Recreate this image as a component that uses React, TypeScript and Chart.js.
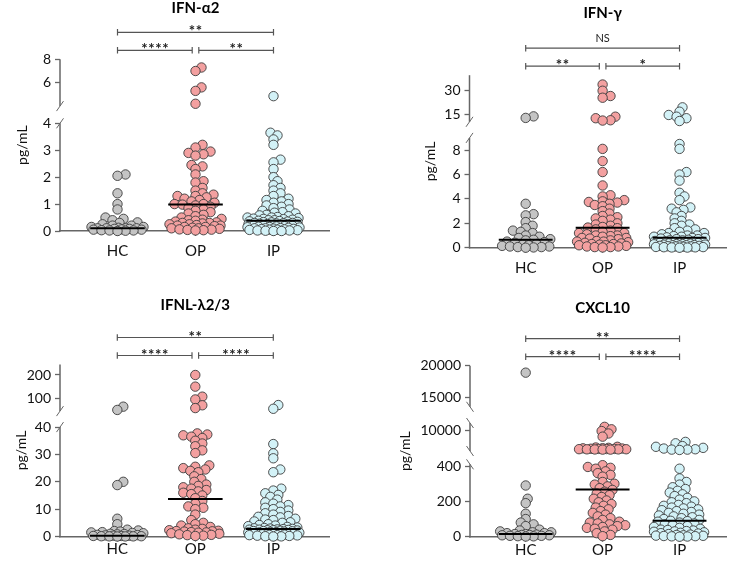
import React, { useEffect, useRef } from 'react';
import { Chart, registerables } from 'chart.js';
Chart.register(...registerables);

const FONT = 'Lato, "Open Sans", "DejaVu Sans", sans-serif';
const groups = ['HC', 'OP', 'IP'];
const groupColors = ['#c4c4c4', '#f3a0a0', '#d3f2f7'];

// ---------- IFN-α2 ----------
const a2HC = [2.1, 2.05, 1.4, 1.0, 0.8, 0.5, 0.45, 0.4, 0.32, 0.3, 0.25, 0.2, 0.2, 0.15, 0.15, 0.12, 0.1, 0.1, 0.1, 0.1, 0.08, 0.08, 0.06, 0.05, 0.05, 0.03, 0.02, 0.02, 0.01, 0.0];
const a2OP = [7.3, 7.0, 5.6, 5.3, 4.2, 3.2, 3.1, 2.95, 2.9, 2.85, 2.8, 2.45, 2.4, 2.3, 2.1, 1.85, 1.8, 1.6, 1.5, 1.4, 1.35, 1.3, 1.3, 1.25, 1.2, 1.15, 1.1, 1.05, 1.0, 1.0, 0.98, 0.95, 0.9, 0.85, 0.8, 0.75, 0.7, 0.65, 0.6, 0.55, 0.5, 0.45, 0.42, 0.4, 0.38, 0.35, 0.32, 0.3, 0.3, 0.28, 0.25, 0.25, 0.22, 0.2, 0.2, 0.18, 0.15, 0.15, 0.12, 0.1, 0.1, 0.08, 0.06, 0.05, 0.04, 0.03, 0.02];
const a2IP = [4.85, 3.65, 3.55, 3.4, 3.2, 2.65, 2.55, 2.3, 2.0, 1.85, 1.7, 1.6, 1.5, 1.4, 1.3, 1.2, 1.15, 1.1, 1.05, 1.0, 0.95, 0.9, 0.85, 0.8, 0.75, 0.7, 0.68, 0.65, 0.6, 0.58, 0.55, 0.52, 0.5, 0.5, 0.48, 0.46, 0.45, 0.44, 0.42, 0.4, 0.4, 0.38, 0.37, 0.36, 0.35, 0.34, 0.33, 0.32, 0.3, 0.3, 0.29, 0.28, 0.27, 0.26, 0.25, 0.24, 0.23, 0.22, 0.21, 0.2, 0.2, 0.19, 0.18, 0.17, 0.16, 0.15, 0.14, 0.13, 0.12, 0.11, 0.1, 0.1, 0.09, 0.08, 0.07, 0.06, 0.05, 0.05, 0.04, 0.03, 0.02, 0.02, 0.01, 0.0, 0.0];
const a2Median = [0.1, 0.98, 0.38];
const a2Ticks = [0, 1, 2, 3, 4, 6, 8];
const a2Stats = ['**', '****', '**'];

// ---------- IFN-γ ----------
const gHC = [13.5, 12.5, 3.6, 2.75, 2.65, 2.1, 1.8, 1.6, 1.4, 1.3, 1.2, 1.0, 0.9, 0.8, 0.7, 0.65, 0.6, 0.5, 0.45, 0.4, 0.3, 0.25, 0.2, 0.15, 0.1, 0.1, 0.05, 0.05, 0.02, 0.0];
const gOP = [34, 30, 26.6, 25.5, 13.3, 12.3, 11, 10.8, 8.1, 7.1, 6.2, 5.1, 4.3, 4.2, 3.9, 3.8, 3.75, 3.7, 3.6, 3.5, 3.4, 3.2, 3.0, 2.8, 2.6, 2.5, 2.4, 2.3, 2.2, 2.0, 1.9, 1.8, 1.7, 1.65, 1.6, 1.5, 1.4, 1.3, 1.2, 1.2, 1.1, 1.0, 1.0, 0.95, 0.9, 0.8, 0.8, 0.75, 0.7, 0.6, 0.55, 0.5, 0.5, 0.45, 0.4, 0.35, 0.3, 0.3, 0.25, 0.2, 0.2, 0.15, 0.1, 0.1, 0.05, 0.05, 0.02];
const gIP = [19.3, 16.5, 14.4, 13.3, 12.3, 10.5, 8.5, 8.1, 6.2, 6.0, 5.5, 4.5, 4.2, 3.9, 3.3, 3.2, 3.1, 2.9, 2.6, 2.4, 2.2, 2.0, 1.9, 1.8, 1.6, 1.5, 1.4, 1.3, 1.2, 1.2, 1.1, 1.0, 1.0, 0.95, 0.9, 0.9, 0.85, 0.8, 0.8, 0.75, 0.7, 0.7, 0.65, 0.6, 0.6, 0.55, 0.5, 0.5, 0.48, 0.45, 0.42, 0.4, 0.4, 0.38, 0.35, 0.33, 0.3, 0.3, 0.28, 0.25, 0.25, 0.22, 0.2, 0.2, 0.18, 0.15, 0.15, 0.12, 0.1, 0.1, 0.08, 0.06, 0.05, 0.04, 0.03, 0.02, 0.01, 0.0];
const gMedian = [0.65, 1.64, 0.82];
const gTicks = [0, 2, 4, 6, 8, 15, 30];
const gStats = ['NS', '**', '*'];

// ---------- IFNL-λ2/3 ----------
const lHC = [64, 50, 20, 18.8, 6.5, 4.5, 2.5, 2.2, 2.0, 1.8, 1.6, 1.5, 1.3, 1.2, 1.0, 0.9, 0.8, 0.6, 0.5, 0.4, 0.3, 0.3, 0.2, 0.2, 0.1, 0.1, 0.05, 0.05, 0.02, 0.0];
const lOP = [200, 150, 107, 95, 70, 58, 37.7, 37.3, 37, 36.5, 36, 35, 34, 33, 31.5, 30.5, 26, 25.5, 25, 24.5, 24, 23.5, 22, 21, 20, 19, 18.5, 18, 17.5, 17, 16.5, 16, 15.5, 15, 14, 13, 12, 11, 10.5, 10, 8, 6, 5, 4.5, 4, 3.5, 3, 2.8, 2.5, 2.3, 2.1, 2.0, 1.9, 1.8, 1.6, 1.5, 1.4, 1.2, 1.0, 0.8, 0.6, 0.5, 0.3, 0.2];
const lIP = [71, 55, 33.8, 30.4, 28.6, 24.5, 23.5, 17.5, 16.8, 15.8, 15.2, 14.5, 13.5, 12.5, 12, 11.5, 11, 10.5, 10, 9.5, 9, 8.5, 8, 7.5, 7.2, 7, 6.5, 6.2, 6, 5.5, 5.2, 5, 4.5, 4.2, 4, 3.8, 3.5, 3.3, 3.1, 3, 2.9, 2.8, 2.7, 2.6, 2.5, 2.5, 2.4, 2.3, 2.3, 2.2, 2.1, 2, 2.0, 1.9, 1.8, 1.7, 1.6, 1.5, 1.5, 1.4, 1.3, 1.2, 1.1, 1, 1.0, 0.9, 0.8, 0.7, 0.6, 0.5, 0.5, 0.4, 0.3, 0.2, 0.1, 0.05, 0];
const lMedian = [0.3, 13.7, 2.7];
const lTicks = [0, 10, 20, 30, 40, 100, 200];
const lStats = ['**', '****', '****'];

// ---------- CXCL10 ----------
const cHC = [18900, 290, 215, 190, 130, 100, 80, 70, 60, 40, 35, 30, 25, 25, 20, 20, 15, 15, 12, 10, 10, 8, 8, 5, 5, 3, 2, 1];
const cOP = [10450, 10100, 9850, 9500, 9050, 7600, 7500, 7450, 7400, 7380, 7350, 7320, 7300, 7300, 7280, 7260, 7250, 7240, 7230, 7220, 7200, 7200, 405, 395, 390, 385, 370, 360, 350, 340, 310, 300, 295, 285, 275, 265, 255, 245, 235, 225, 215, 205, 195, 185, 175, 165, 155, 145, 135, 125, 115, 105, 95, 85, 80, 75, 70, 65, 60, 55, 50, 45, 40, 30, 20, 10, 3];
const cIP = [8300, 8100, 7700, 7600, 7450, 7350, 7250, 7200, 7200, 7150, 385, 330, 310, 295, 280, 270, 260, 250, 240, 230, 220, 210, 200, 195, 190, 180, 175, 170, 165, 160, 155, 150, 145, 140, 135, 130, 125, 120, 115, 110, 105, 100, 95, 90, 88, 85, 80, 75, 70, 65, 60, 55, 50, 45, 40, 38, 35, 32, 30, 28, 25, 22, 20, 18, 15, 12, 10, 8, 6, 5, 4, 3, 2, 1, 0];
const cMedian = [15, 268, 90];
const cTicks = [0, 200, 400, 10000, 15000, 20000];
const cStats = ['**', '****', '****'];

type Seg = { lo: number; hi: number; d0: number; d1: number };

type Panel = {
  title: string;
  values: number[][];
  medians: number[];
  ticks: number[];
  stats: string[];
  segs: Seg[];
  y0: number;
  axisX: number;
  hcX: number;
  step: number;
  rightX: number;
  slash: number;
  xLabelPad: number;
  titleDy: number;
  yTitleOff: number;
};

const panels: Panel[] = [
  {
    title: 'IFN-α2', values: [a2HC, a2OP, a2IP], medians: a2Median, ticks: a2Ticks, stats: a2Stats,
    segs: [{ lo: 0, hi: 4, d0: 0, d1: 107.7 }, { lo: 4, hi: 8, d0: 124.9, d1: 171.7 }],
    y0: 231, axisX: 60, hcX: 117.5, step: 78, rightX: 329, slash: 1, xLabelPad: 6, titleDy: 51, yTitleOff: 38,
  },
  {
    title: 'IFN-γ', values: [gHC, gOP, gIP], medians: gMedian, ticks: gTicks, stats: gStats,
    segs: [{ lo: 0, hi: 9, d0: 0, d1: 109.8 }, { lo: 10, hi: 40, d0: 125.9, d1: 172.5 }],
    y0: 247.7, axisX: 469.5, hcX: 526.7, step: 78.3, rightX: 731, slash: 1, xLabelPad: 6, titleDy: 62, yTitleOff: 39.5,
  },
  {
    title: 'IFNL-λ2/3', values: [lHC, lOP, lIP], medians: lMedian, ticks: lTicks, stats: lStats,
    segs: [{ lo: 0, hi: 40, d0: 0, d1: 109.4 }, { lo: 45, hi: 245, d0: 125.4, d1: 172 }],
    y0: 536.5, axisX: 60, hcX: 117.3, step: 78, rightX: 329, slash: 1, xLabelPad: -1, titleDy: 59.5, yTitleOff: 38.3,
  },
  {
    title: 'CXCL10', values: [cHC, cOP, cIP], medians: cMedian, ticks: cTicks, stats: cStats,
    segs: [{ lo: 0, hi: 410, d0: 0, d1: 72.4 }, { lo: 7000, hi: 11000, d0: 85.7, d1: 113.7 }, { lo: 13500, hi: 20000, d0: 129.9, d1: 171 }],
    y0: 536.7, axisX: 470, hcX: 526.7, step: 78.3, rightX: 731, slash: -1, xLabelPad: -1, titleDy: 57.7, yTitleOff: 65,
  },
];

function toD(v: number, segs: Seg[]): number {
  for (let i = 0; i < segs.length; i++) {
    const s = segs[i];
    if (v <= s.hi || i === segs.length - 1) {
      const c = Math.max(v, s.lo);
      return s.d0 + ((c - s.lo) * (s.d1 - s.d0)) / (s.hi - s.lo);
    }
  }
  return 0;
}

// deterministic beeswarm layout in pixel space (d values are pixels),
// anisotropic spacing: points only spread sideways when nearly level
function swarm(ds: number[], pxPerUnit: number, Dx: number, Dy: number, W: number): number[] {
  const idx = ds.map((_, i) => i).sort((a, b) => ds[a] - ds[b]);
  const placed: { x: number; y: number }[] = [];
  const res = new Array(ds.length).fill(0);
  for (const i of idx) {
    const y = ds[i];
    let best = 0;
    let bestScore = -Infinity;
    for (let k = 0; k <= 2 * W; k++) {
      const off = (k % 2 === 1 ? 1 : -1) * Math.ceil(k / 2);
      let minD = Infinity;
      for (const p of placed) {
        const dd = Math.hypot((off - p.x) / Dx, (y - p.y) / Dy);
        if (dd < minD) minD = dd;
      }
      if (minD >= 1) {
        best = off;
        break;
      }
      if (minD > bestScore + 0.05) {
        bestScore = minD;
        best = off;
      }
    }
    placed.push({ x: best, y });
    res[i] = best / pxPerUnit;
  }
  return res;
}

const YW = 60;
const XH = 34;

function buildConfig(p: Panel): any {
  const dTop = p.segs[p.segs.length - 1].d1;
  const xMin = 1 - (p.hcX - p.axisX) / p.step;
  const xMax = 1 + (p.rightX - p.hcX) / p.step;

  const scatterSets = p.values.map((vals, g) => {
    const ds = vals.map((v) => toD(v, p.segs));
    const offs = swarm(ds, p.step, 8, 4.5, 26);
    return {
      data: ds.map((d, i) => ({ x: g + 1 + offs[i], y: d })),
      pointRadius: 4.7,
      pointBackgroundColor: groupColors[g],
      pointBorderColor: '#3c3c3c',
      pointBorderWidth: 0.9,
      showLine: false,
      clip: false,
      order: 2,
    };
  });
  const medianSets = p.medians.map((m, g) => ({
    data: [
      { x: g + 1 - 0.35, y: toD(m, p.segs) },
      { x: g + 1 + 0.35, y: toD(m, p.segs) },
    ],
    showLine: true,
    borderColor: '#000',
    borderWidth: 2,
    pointRadius: 0,
    clip: false,
    order: 1,
  }));

  const decor = {
    id: 'decor' + p.title,
    afterDraw(chart: any) {
      const ctx = chart.ctx as CanvasRenderingContext2D;
      const xs = chart.scales.x;
      const ys = chart.scales.y;
      const ca = chart.chartArea;
      const ax = ca.left;
      ctx.save();
      // broken y axis
      p.segs.forEach((s, i) => {
        const yA = ys.getPixelForValue(s.d0);
        const yB = ys.getPixelForValue(s.d1);
        ctx.strokeStyle = '#666';
        ctx.lineWidth = 1.5;
        ctx.beginPath();
        ctx.moveTo(ax, i === 0 ? yA + 0.75 : yA);
        ctx.lineTo(ax, yB);
        ctx.stroke();
        ctx.lineWidth = 1;
        const slashAt = (yy: number) => {
          ctx.beginPath();
          ctx.moveTo(ax - 3.5, yy + 5 * p.slash);
          ctx.lineTo(ax + 3.5, yy - 5 * p.slash);
          ctx.stroke();
        };
        if (i > 0) slashAt(yA);
        if (i < p.segs.length - 1) slashAt(yB);
      });

      // y title
      ctx.save();
      ctx.translate(ax - p.yTitleOff, (ca.top + ca.bottom) / 2);
      ctx.rotate(-Math.PI / 2);
      ctx.fillStyle = '#111';
      ctx.font = `14px ${FONT}`;
      ctx.textAlign = 'center';
      ctx.textBaseline = 'middle';
      ctx.fillText('pg/mL', 0, 0);
      ctx.restore();

      const xHC = xs.getPixelForValue(1);
      const xOP = xs.getPixelForValue(2);
      const xIP = xs.getPixelForValue(3);

      // title
      ctx.fillStyle = '#000';
      ctx.font = `bold 15px ${FONT}`;
      ctx.textAlign = 'center';
      ctx.textBaseline = 'middle';
      ctx.fillText(p.title, xOP, ca.top - p.titleDy);

      // significance brackets
      const bracket = (x1: number, x2: number, y: number, label: string) => {
        ctx.strokeStyle = '#555';
        ctx.lineWidth = 1.2;
        ctx.beginPath();
        ctx.moveTo(x1, y);
        ctx.lineTo(x2, y);
        ctx.moveTo(x1, y - 3.3);
        ctx.lineTo(x1, y + 3.3);
        ctx.moveTo(x2, y - 3.3);
        ctx.lineTo(x2, y + 3.3);
        ctx.stroke();
        ctx.fillStyle = '#222';
        ctx.textAlign = 'center';
        ctx.textBaseline = 'alphabetic';
        const mid = (x1 + x2) / 2;
        if (label === 'NS') {
          ctx.font = `11px ${FONT}`;
          ctx.fillText(label, mid, y - 6);
        } else {
          ctx.font = `bold 15px ${FONT}`;
          const n = label.length;
          for (let k = 0; k < n; k++) {
            ctx.fillText('*', mid + (k - (n - 1) / 2) * 7, y + 4);
          }
        }
      };
      const yLong = ca.top - 27;
      const yShort = ca.top - 9;
      bracket(xHC, xIP, yLong, p.stats[0]);
      bracket(xHC, xOP - 3.3, yShort, p.stats[1]);
      bracket(xOP + 3.3, xIP, yShort, p.stats[2]);
      ctx.restore();
    },
  };

  return {
    type: 'scatter',
    data: { datasets: [...scatterSets, ...medianSets] },
    options: {
      responsive: false,
      animation: false,
      events: [],
      layout: {
        padding: {
          left: p.axisX - YW,
          top: p.y0 - dTop,
          right: 732 - p.rightX,
          bottom: 563 - p.y0 - XH,
        },
      },
      plugins: { legend: { display: false }, tooltip: { enabled: false }, title: { display: false } },
      scales: {
        x: {
          type: 'linear',
          min: xMin,
          max: xMax,
          afterFit: (s: any) => { s.height = XH; },
          afterBuildTicks: (s: any) => { s.ticks = [1, 2, 3].map((v) => ({ value: v })); },
          ticks: {
            callback: (v: any) => groups[Math.round(v) - 1] ?? '',
            font: { family: FONT, size: 15 },
            color: '#111',
            padding: p.xLabelPad,
            maxRotation: 0,
            autoSkip: false,
          },
          grid: { display: true, drawOnChartArea: false, drawTicks: true, tickLength: 5, color: '#666', tickColor: '#666', tickWidth: 1.3 },
          border: { display: true, color: '#666', width: 1.5 },
        },
        y: {
          type: 'linear',
          min: 0,
          max: dTop,
          afterFit: (s: any) => { s.width = YW; },
          afterBuildTicks: (s: any) => { s.ticks = p.ticks.map((t) => ({ value: toD(t, p.segs) })); },
          ticks: {
            callback: (_v: any, i: number) => String(p.ticks[i]),
            font: { family: FONT, size: 14 },
            color: '#111',
            padding: 4,
            autoSkip: false,
          },
          grid: { display: true, drawOnChartArea: false, drawTicks: true, tickLength: 5, color: '#666', tickColor: '#666', tickWidth: 1.3 },
          border: { display: false },
        },
      },
    },
    plugins: [decor],
  };
}

function PanelChart({ panel }: { panel: Panel }) {
  const ref = useRef<HTMLCanvasElement>(null);
  useEffect(() => {
    const chart = new Chart(ref.current as HTMLCanvasElement, buildConfig(panel));
    return () => chart.destroy();
  }, [panel]);
  return (
    <canvas
      ref={ref}
      width={732}
      height={563}
      style={{ position: 'absolute', left: 0, top: 0, width: 732, height: 563 }}
    />
  );
}

export default function App() {
  return (
    <div style={{ position: 'absolute', left: 0, top: 0, width: 732, height: 563, background: '#fff', overflow: 'hidden' }}>
      {panels.map((p, i) => (
        <PanelChart key={i} panel={p} />
      ))}
    </div>
  );
}
